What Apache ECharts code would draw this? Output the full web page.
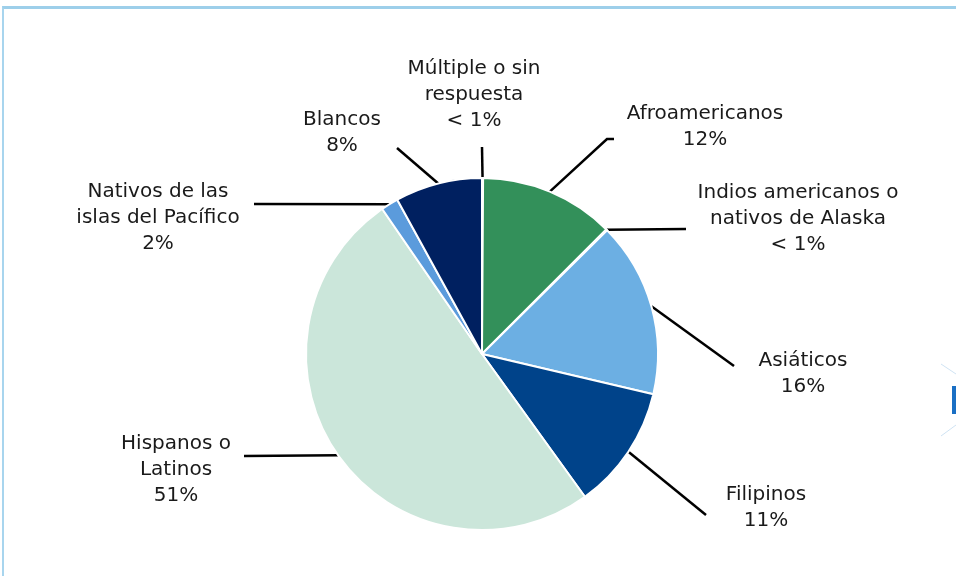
<!DOCTYPE html>
<html>
<head>
<meta charset="utf-8">
<script src="https://cdn.jsdelivr.net/npm/echarts@6/dist/echarts.min.js"></script>
<style>
  html, body { margin: 0; padding: 0; background: #fff; }
  .wrap { position: relative; width: 956px; height: 576px; overflow: hidden; }
  /* marco azul claro del recuadro */
  .frame {
    position: absolute; left: 2px; top: 6px; right: -10px; bottom: -10px;
    border-top: 3px solid #9dcfea; border-left: 2px solid #a8d5ee;
  }
  #chart { position: absolute; left: 0; top: 0; width: 956px; height: 576px; }
</style>
</head>
<body>
<div class="wrap">
  <div class="frame"></div>
  <div id="chart"></div>
</div>
<script>
// datos
const categories = [
  'Múltiple o sin\nrespuesta',
  'Afroamericanos',
  'Indios americanos o\nnativos de Alaska',
  'Asiáticos',
  'Filipinos',
  'Hispanos o\nLatinos',
  'Nativos de las\nislas del Pacífico',
  'Blancos'
];
const values = [0.1, 12.4, 0.1, 16.1, 11.4, 50.4, 1.6, 8.0];
const pctLabels = ['< 1%', '12%', '< 1%', '16%', '11%', '51%', '2%', '8%'];

// estilo
const colors = ['#e6e6e6', '#33905a', '#dbe9f6', '#6cafe3', '#00438a', '#cbe6da', '#5b9bdc', '#002060'];
// posición de cada etiqueta (centro) y puntos finales de su línea guía
const labelPos = [[474, 95], [705, 127], [798, 219], [803, 374], [766, 508], [176, 470], [158, 218], [342, 133]];
const lineEnds = [
  [[482, 147]],
  [[607, 139], [614, 139]],
  [[686, 229]],
  [[734, 366]],
  [[706, 515]],
  [[244, 456]],
  [[254, 204]],
  [[397, 148]]
];

const chart = echarts.init(document.getElementById('chart'));

chart.setOption({
  animation: false,
  textStyle: { fontFamily: 'DejaVu Sans' },
  graphic: [
    // flecha azul del borde derecho
    { type: 'rect', shape: { x: 952, y: 386, width: 6, height: 28 }, style: { fill: '#1a6fc4' } },
    { type: 'line', shape: { x1: 941, y1: 364, x2: 956, y2: 374 }, style: { stroke: '#cfe3f3', lineWidth: 1 } },
    { type: 'line', shape: { x1: 941, y1: 436, x2: 956, y2: 425 }, style: { stroke: '#cfe3f3', lineWidth: 1 } }
  ],
  series: [{
    type: 'pie',
    center: [482, 354],
    radius: 176,
    startAngle: 90,
    clockwise: true,
    silent: true,
    avoidLabelOverlap: false,
    itemStyle: { borderColor: '#fff', borderWidth: 2 },
    label: {
      show: true,
      position: 'outside',
      color: '#1a1a1a',
      fontSize: 20,
      lineHeight: 26,
      fontFamily: 'DejaVu Sans',
      formatter: p => p.name + '\n' + pctLabels[p.dataIndex]
    },
    labelLine: { show: true, lineStyle: { color: '#000', width: 2.5 } },
    labelLayout: params => {
      const i = params.dataIndex;
      const start = params.labelLinePoints ? params.labelLinePoints[0] : lineEnds[i][0];
      return {
        x: labelPos[i][0],
        y: labelPos[i][1],
        align: 'center',
        verticalAlign: 'middle',
        labelLinePoints: [start].concat(lineEnds[i])
      };
    },
    data: categories.map((name, i) => ({
      name: name,
      value: values[i],
      itemStyle: { color: colors[i] }
    }))
  }]
});
</script>
</body>
</html>
